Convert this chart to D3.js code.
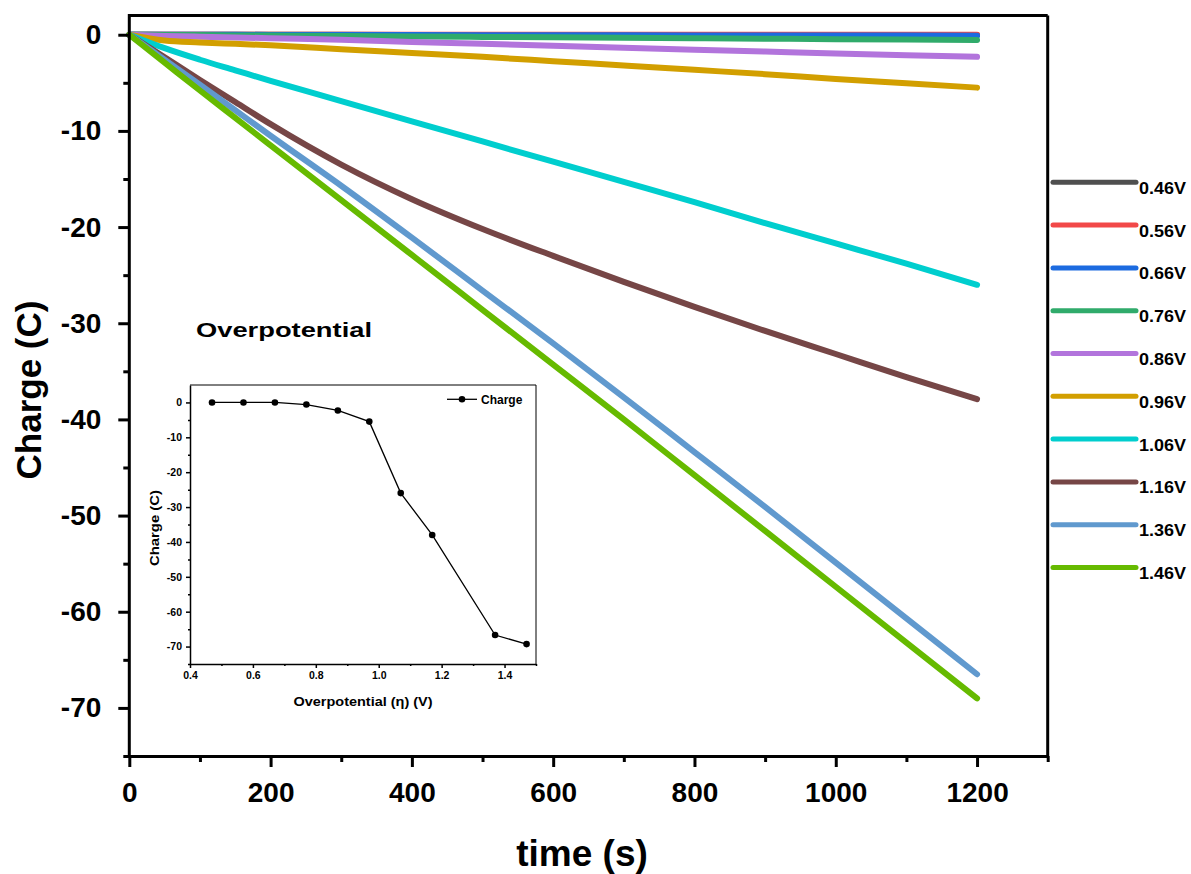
<!DOCTYPE html>
<html>
<head>
<meta charset="utf-8">
<script src="https://cdn.jsdelivr.net/npm/d3@7"></script>
<style>
  html, body { margin: 0; padding: 0; background: #fff; }
  svg { display: block; }
  text { font-family: "Liberation Sans", Arial, sans-serif; font-weight: bold; fill: #000; }
</style>
</head>
<body>
<svg id="chart" width="1191" height="874"></svg>
<script>
// Charge vs time for each overpotential
const time = [0, 50, 100, 150, 200, 300, 400, 500, 600, 700, 800, 900, 1000, 1100, 1200];

const q046 = [0, -0.003, -0.005, -0.008, -0.01, -0.013, -0.015, -0.018, -0.02, -0.023, -0.025, -0.027, -0.028, -0.029, -0.03];
const q056 = [0, 0, 0, 0, 0, 0, 0, 0, 0, 0, 0, 0, 0, 0, 0];
const q066 = [0, -0.004, -0.008, -0.012, -0.017, -0.025, -0.033, -0.042, -0.05, -0.058, -0.067, -0.075, -0.083, -0.092, -0.1];
const q076 = [0, -0.02, -0.04, -0.07, -0.09, -0.14, -0.18, -0.23, -0.27, -0.32, -0.36, -0.41, -0.46, -0.5, -0.55];
const q086 = [0, -0.12, -0.2, -0.28, -0.36, -0.52, -0.75, -0.95, -1.15, -1.35, -1.55, -1.75, -1.95, -2.13, -2.3];
const q096 = [0, -0.6, -0.8, -0.95, -1.1, -1.5, -1.9, -2.3, -2.75, -3.2, -3.65, -4.1, -4.6, -5.05, -5.5];
const q106 = [0, -1.4, -2.6, -3.7, -4.8, -6.9, -9.0, -11.1, -13.2, -15.3, -17.4, -19.6, -21.7, -23.8, -26.0];
const q116 = [0, -2.35, -4.7, -7.0, -9.3, -13.5, -17.1, -20.2, -23.0, -25.7, -28.3, -30.8, -33.2, -35.6, -37.9];
const q136 = [0, -2.6, -5.2, -7.85, -10.5, -15.7, -21.1, -26.6, -32.1, -37.7, -43.4, -49.1, -54.9, -60.7, -66.5];
const q146 = [0, -2.9, -5.8, -8.65, -11.5, -17.2, -22.9, -28.6, -34.3, -40.0, -45.8, -51.6, -57.4, -63.2, -69.0];

const seriesLabels = ["0.46V", "0.56V", "0.66V", "0.76V", "0.86V", "0.96V", "1.06V", "1.16V", "1.36V", "1.46V"];
const seriesValues = [q046, q056, q066, q076, q086, q096, q106, q116, q136, q146];
const seriesColors = ["#4f4f4f", "#f24848", "#1c6be0", "#30ab6b", "#b274dc", "#d29f00", "#00cece", "#764646", "#6099ce", "#66ba00"];

// Main axes tick values
const xMajor = [0, 200, 400, 600, 800, 1000, 1200];
const xMinor = [100, 300, 500, 700, 900, 1100, 1300];
const yMajor = [0, -10, -20, -30, -40, -50, -60, -70];
const yMinor = [-5, -15, -25, -35, -45, -55, -65, -75];

// Inset: final charge vs overpotential
const eta = [0.47, 0.57, 0.67, 0.77, 0.87, 0.97, 1.07, 1.17, 1.37, 1.47];
const finalCharge = [0, 0, 0, -0.6, -2.3, -5.5, -26.0, -38.0, -66.7, -69.3];
const insetXMajor = [0.4, 0.6, 0.8, 1.0, 1.2, 1.4];
const insetXMinor = [0.5, 0.7, 0.9, 1.1, 1.3, 1.5];
const insetYMajor = [0, -10, -20, -30, -40, -50, -60, -70];
const insetYMinor = [-5, -15, -25, -35, -45, -55, -65, -75];

// plain hyphen for negative numbers
const intFmt = d => String(d);
const oneDec = d => d.toFixed(1);

const svg = d3.select("#chart");

const x = d3.scaleLinear().domain([0, 1300]).range([129.3, 1047.7]);
const y = d3.scaleLinear().domain([-75, 2]).range([756, 15.5]);

// Curves
const line = d3.line()
  .x(d => x(d[0]))
  .y(d => y(d[1]))
  .curve(d3.curveMonotoneX);

svg.append("g").selectAll("path")
  .data(seriesValues)
  .join("path")
  .attr("d", vals => line(time.map((t, i) => [t, vals[i]])))
  .attr("fill", "none")
  .attr("stroke", (d, i) => seriesColors[i])
  .attr("stroke-width", 6)
  .attr("stroke-linecap", "round")
  .attr("stroke-linejoin", "round");

// Frame (top and right)
svg.append("line").attr("x1", x(0)).attr("x2", x(1300)).attr("y1", y(2)).attr("y2", y(2))
  .attr("stroke", "#000").attr("stroke-width", 3);
svg.append("line").attr("x1", x(1300)).attr("x2", x(1300)).attr("y1", y(2)).attr("y2", y(-75))
  .attr("stroke", "#000").attr("stroke-width", 3);

function styleAxis(g, fontSize, width) {
  g.selectAll("path.domain").attr("stroke", "#000").attr("stroke-width", width);
  g.selectAll(".tick line").attr("stroke", "#000").attr("stroke-width", width);
  g.selectAll(".tick text")
    .attr("font-family", '"Liberation Sans", Arial, sans-serif')
    .attr("font-weight", "bold")
    .attr("font-size", fontSize)
    .attr("fill", "#000");
}

// Bottom axis
const gx = svg.append("g").attr("transform", `translate(0,${y(-75)})`)
  .call(d3.axisBottom(x).tickValues(xMajor).tickSize(11).tickSizeOuter(0).tickPadding(15).tickFormat(intFmt));
styleAxis(gx, 28, 3);
const gxm = svg.append("g").attr("transform", `translate(0,${y(-75)})`)
  .call(d3.axisBottom(x).tickValues(xMinor).tickSize(6).tickSizeOuter(0).tickFormat(""));
styleAxis(gxm, 28, 3);
gxm.select("path.domain").remove();

// Left axis
const gy = svg.append("g").attr("transform", `translate(${x(0)},0)`)
  .call(d3.axisLeft(y).tickValues(yMajor).tickSize(11).tickSizeOuter(0).tickPadding(17).tickFormat(intFmt));
styleAxis(gy, 28, 3);
gy.select("path.domain").attr("d", `M0,${y(-75) + 1.5}V${y(2) - 1.5}`);
const gym = svg.append("g").attr("transform", `translate(${x(0)},0)`)
  .call(d3.axisLeft(y).tickValues(yMinor).tickSize(6).tickSizeOuter(0).tickFormat(""));
styleAxis(gym, 28, 3);
gym.select("path.domain").remove();

// Axis titles
svg.append("text").attr("transform", "translate(41,390) rotate(-90)")
  .attr("text-anchor", "middle").attr("font-size", 35).text("Charge (C)");
svg.append("text").attr("x", 582).attr("y", 866)
  .attr("text-anchor", "middle").attr("font-size", 37).text("time (s)");

// Legend
const legend = svg.append("g");
seriesLabels.forEach((lab, i) => {
  const ly = 182.3 + i * 42.8;
  legend.append("line").attr("x1", 1053).attr("x2", 1136).attr("y1", ly).attr("y2", ly)
    .attr("stroke", seriesColors[i]).attr("stroke-width", 5).attr("stroke-linecap", "round");
  legend.append("text").attr("x", 1139).attr("y", ly + 11.5)
    .attr("font-size", 17).attr("textLength", 47).attr("lengthAdjust", "spacingAndGlyphs").text(lab);
});

// Inset heading
svg.append("text").attr("x", 196).attr("y", 337).attr("font-size", 21)
  .attr("textLength", 176).attr("lengthAdjust", "spacingAndGlyphs").text("Overpotential");

// Inset chart
const xi = d3.scaleLinear().domain([0.4, 1.5]).range([190, 536]);
const yi = d3.scaleLinear().domain([-75, 5]).range([664, 385]);

svg.append("line").attr("x1", xi(0.4)).attr("x2", xi(1.5)).attr("y1", yi(5)).attr("y2", yi(5))
  .attr("stroke", "#000").attr("stroke-width", 1);
svg.append("line").attr("x1", xi(1.5)).attr("x2", xi(1.5)).attr("y1", yi(5)).attr("y2", yi(-75))
  .attr("stroke", "#000").attr("stroke-width", 1);

const gxi = svg.append("g").attr("transform", `translate(0,${yi(-75)})`)
  .call(d3.axisBottom(xi).tickValues(insetXMajor).tickSize(4).tickSizeOuter(0).tickPadding(4).tickFormat(oneDec));
styleAxis(gxi, 10.5, 1.5);
const gxim = svg.append("g").attr("transform", `translate(0,${yi(-75)})`)
  .call(d3.axisBottom(xi).tickValues(insetXMinor).tickSize(2).tickSizeOuter(0).tickFormat(""));
styleAxis(gxim, 10.5, 1.5);
gxim.select("path.domain").remove();

const gyi = svg.append("g").attr("transform", `translate(${xi(0.4)},0)`)
  .call(d3.axisLeft(yi).tickValues(insetYMajor).tickSize(4).tickSizeOuter(0).tickPadding(4).tickFormat(intFmt));
styleAxis(gyi, 10.5, 1.5);
const gyim = svg.append("g").attr("transform", `translate(${xi(0.4)},0)`)
  .call(d3.axisLeft(yi).tickValues(insetYMinor).tickSize(2).tickSizeOuter(0).tickFormat(""));
styleAxis(gyim, 10.5, 1.5);
gyim.select("path.domain").remove();

const insetLine = d3.line().x((d, i) => xi(eta[i])).y(d => yi(d));
svg.append("path").attr("d", insetLine(finalCharge))
  .attr("fill", "none").attr("stroke", "#000").attr("stroke-width", 1.3);
svg.append("g").selectAll("circle")
  .data(finalCharge)
  .join("circle")
  .attr("cx", (d, i) => xi(eta[i]))
  .attr("cy", d => yi(d))
  .attr("r", 3.3)
  .attr("fill", "#000");

// Inset titles
svg.append("text").attr("x", 363).attr("y", 706).attr("text-anchor", "middle")
  .attr("font-size", 13).attr("textLength", 139).attr("lengthAdjust", "spacingAndGlyphs")
  .text("Overpotential (η) (V)");
svg.append("text").attr("transform", "translate(159,528) rotate(-90)").attr("text-anchor", "middle")
  .attr("font-size", 13).attr("textLength", 76).attr("lengthAdjust", "spacingAndGlyphs")
  .text("Charge (C)");

// Inset legend
svg.append("line").attr("x1", 447).attr("x2", 477).attr("y1", 399.3).attr("y2", 399.3)
  .attr("stroke", "#000").attr("stroke-width", 1.3);
svg.append("circle").attr("cx", 462).attr("cy", 399.3).attr("r", 3.3).attr("fill", "#000");
svg.append("text").attr("x", 481).attr("y", 403.6).attr("font-size", 12).text("Charge");
</script>
</body>
</html>
